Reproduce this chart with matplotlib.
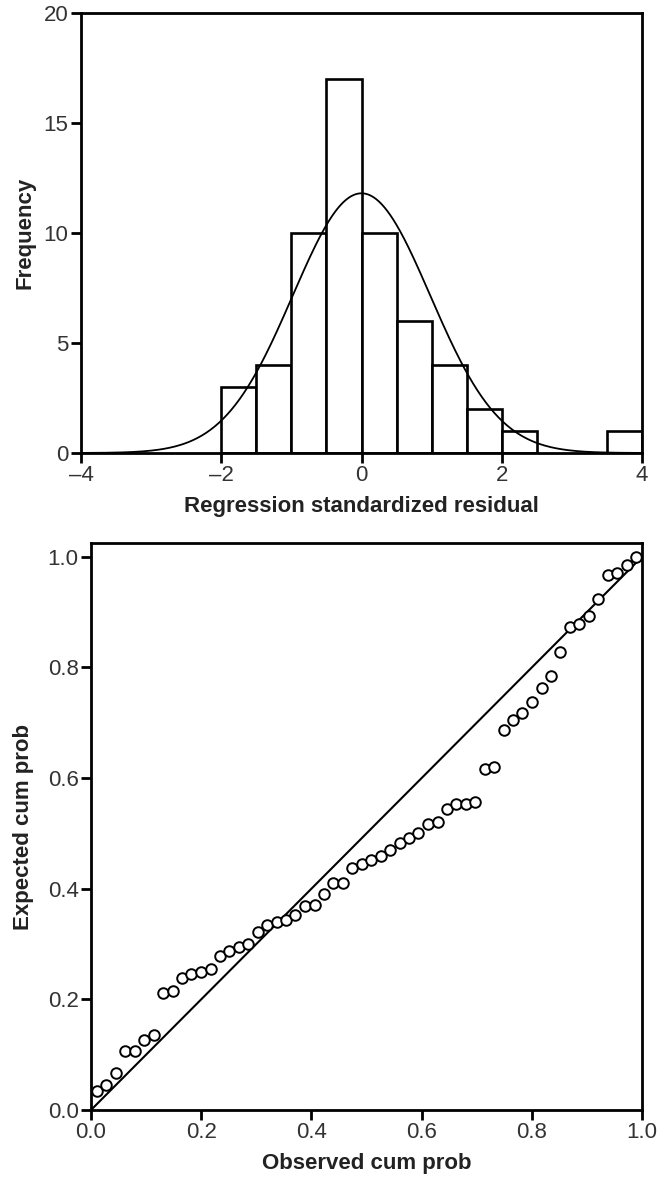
import numpy as np
import matplotlib
matplotlib.use("Agg")
import matplotlib.pyplot as plt

# ---- data ----
bin_edges_left = [-2.0, -1.5, -1.0, -0.5, 0.0, 0.5, 1.0, 1.5, 2.0, 3.5]
bin_width = 0.5
frequencies = [3, 4, 10, 17, 10, 6, 4, 2, 1, 1]
resid_mean = 0.0
resid_sd = 0.98
n_obs = 58

observed_cum = [0.011, 0.028, 0.045, 0.062, 0.079, 0.097, 0.114, 0.131, 0.148, 0.165,
                0.182, 0.200, 0.217, 0.234, 0.251, 0.268, 0.285, 0.303, 0.320, 0.337,
                0.354, 0.371, 0.388, 0.406, 0.423, 0.440, 0.457, 0.474, 0.491, 0.509,
                0.526, 0.543, 0.560, 0.577, 0.594, 0.612, 0.629, 0.646, 0.663, 0.680,
                0.697, 0.715, 0.732, 0.749, 0.766, 0.783, 0.800, 0.818, 0.835, 0.852,
                0.869, 0.886, 0.903, 0.921, 0.938, 0.955, 0.972, 0.989]
expected_cum = [0.035, 0.045, 0.066, 0.107, 0.107, 0.127, 0.135, 0.211, 0.216, 0.238,
                0.245, 0.250, 0.255, 0.278, 0.287, 0.295, 0.300, 0.322, 0.335, 0.340,
                0.344, 0.352, 0.368, 0.370, 0.390, 0.411, 0.411, 0.437, 0.445, 0.452,
                0.460, 0.470, 0.483, 0.492, 0.500, 0.517, 0.520, 0.545, 0.553, 0.553,
                0.556, 0.617, 0.620, 0.687, 0.705, 0.718, 0.738, 0.763, 0.785, 0.828,
                0.873, 0.879, 0.893, 0.924, 0.967, 0.971, 0.985, 1.000]

hist_xticks = [-4, -2, 0, 2, 4]
hist_yticks = [0, 5, 10, 15, 20]
pp_ticks = [0.0, 0.2, 0.4, 0.6, 0.8, 1.0]

tick_family = ["Liberation Sans", "DejaVu Sans"]
label_family = ["Liberation Sans", "DejaVu Sans"]
tick_color = "#333333"
label_color = "#222222"

fig = plt.figure(figsize=(6.64, 11.79), dpi=100)

# ---- histogram ----
ax1 = fig.add_axes([81/664, 1-453/1179, (642-81)/664, (453-13)/1179])
ax1.bar(bin_edges_left, frequencies, width=bin_width, align="edge",
        color="white", edgecolor="black", linewidth=1.9, zorder=2)
xs = np.linspace(-4, 4, 400)
pdf = n_obs * bin_width / (resid_sd * np.sqrt(2*np.pi)) * np.exp(-0.5*((xs-resid_mean)/resid_sd)**2)
ax1.plot(xs, pdf, color="black", linewidth=1.3, zorder=3)
ax1.set_xlim(-4, 4)
ax1.set_ylim(0, 20)
ax1.set_xticks(hist_xticks)
ax1.set_xticklabels(["\u2013" + str(abs(t)) if t < 0 else str(t) for t in hist_xticks])
ax1.set_yticks(hist_yticks)
ax1.set_xlabel("Regression standardized residual", fontsize=16, fontweight="bold",
               family=label_family, color=label_color, labelpad=7)
ax1.set_ylabel("Frequency", fontsize=16, fontweight="bold",
               family=label_family, color=label_color, labelpad=6)

# ---- P-P plot ----
ax2 = fig.add_axes([91/664, 1-1110/1179, (642-91)/664, (1110-543)/1179])
ax2.plot([0, 1], [0, 1], color="black", linewidth=1.5, zorder=2)
ax2.scatter(observed_cum, expected_cum, s=58, facecolors="white",
            edgecolors="black", linewidths=1.4, zorder=3)
ax2.set_xlim(0, 1)
ax2.set_ylim(0, 1.025)
ax2.set_xticks(pp_ticks)
ax2.set_yticks(pp_ticks)
ax2.set_xticklabels([f"{t:.1f}" for t in pp_ticks])
ax2.set_yticklabels([f"{t:.1f}" for t in pp_ticks])
ax2.set_xlabel("Observed cum prob", fontsize=16, fontweight="bold",
               family=label_family, color=label_color, labelpad=7)
ax2.set_ylabel("Expected cum prob", fontsize=16, fontweight="bold",
               family=label_family, color=label_color, labelpad=10)

for ax in (ax1, ax2):
    for sp in ax.spines.values():
        sp.set_linewidth(2.0)
        sp.set_color("black")
    ax.tick_params(direction="out", length=7, width=2.0, color="black",
                   labelsize=16, labelcolor=tick_color, pad=2)
    for lab in ax.get_xticklabels() + ax.get_yticklabels():
        lab.set_family(tick_family)

fig.savefig("out.png", dpi=100)
